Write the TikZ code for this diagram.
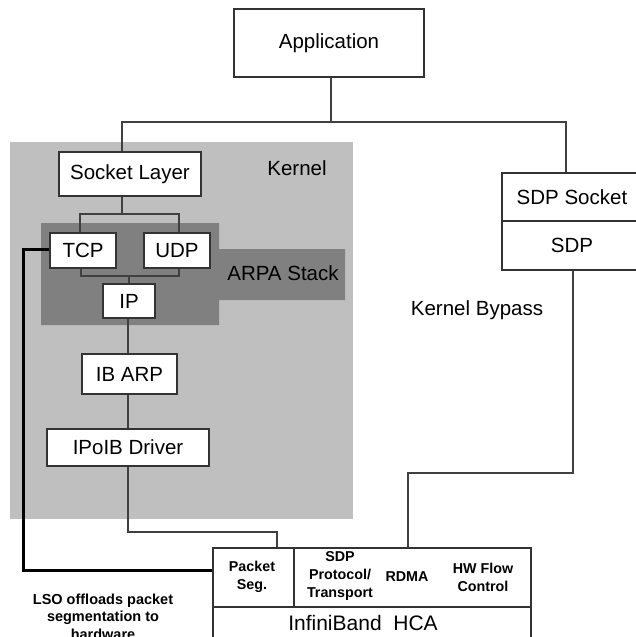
\documentclass[tikz,border=0pt]{standalone}
\usepackage{fontspec}
\setmainfont{Liberation Sans}
\begin{document}
\begin{tikzpicture}[x=1pt,y=-1pt,
  box/.style={draw=black!80,line width=1.2pt,fill=white,inner sep=0pt,font=\fontsize{20.5}{24}\selectfont},
  lbl/.style={inner sep=0pt,font=\fontsize{20.5}{24}\selectfont},
  hlbl/.style={inner sep=0pt,align=center,font=\bfseries\fontsize{14.3}{18}\selectfont},
  conn/.style={draw=black!75,line width=1.1pt},
  thick/.style={draw=black,line width=3pt}]
\useasboundingbox (0,0) rectangle (636,637);
\begin{scope}
\clip (0,0) rectangle (636,637);
% regions
\fill[black!25] (10,142) rectangle (353,519);
\fill[black!50] (41,223) -- (219,223) -- (219,249) -- (345,249) -- (345,300) -- (219,300) -- (219,325) -- (41,325) -- cycle;
\node[lbl] (kernel) at (297,168) {Kernel};
\node[lbl] (arpa) at (283,273) {ARPA Stack};
\node[lbl] (bypass) at (477,310) {Kernel Bypass};
% boxes
\node[box,minimum width=190pt,minimum height=68pt] (app) at (329,43) {Application};
\node[box,minimum width=142pt,minimum height=44pt] (sock) at (130,174) {Socket Layer};
\node[box,minimum width=66pt,minimum height=35pt] (tcp) at (83,250.5) {TCP};
\node[box,minimum width=66pt,minimum height=35pt] (udp) at (177,250.5) {UDP};
\node[box,minimum width=52pt,minimum height=34pt] (ip) at (129,301) {IP};
\node[box,minimum width=95pt,minimum height=40pt] (ibarp) at (129.5,374) {IB ARP};
\node[box,minimum width=162pt,minimum height=37pt] (ipoib) at (128,447.5) {IPoIB Driver};
\node[box,minimum width=140pt,minimum height=48pt] (sdpsock) at (572,197) {SDP Socket};
\node[box,minimum width=140pt,minimum height=49pt] (sdp) at (572,245.5) {SDP};
\node[box,minimum width=318pt,minimum height=59pt] (hcatop) at (372,577.5) {};
\node[box,minimum width=81pt,minimum height=59pt] (pseg) at (253.5,577.5) {};
\node[box,minimum width=318pt,minimum height=50pt] (hcabot) at (372,632) {};
\node[lbl,font=\fontsize{21}{24}\selectfont] (hcatxt) at (363,623) {InfiniBand\ \ HCA};
\node[hlbl] (psegtxt) at (252,577) {Packet\\Seg.};
\node[hlbl] (sdpp) at (340,575.5) {SDP\\Protocol/\\Transport};
\node[hlbl] (rdma) at (407,577) {RDMA};
\node[hlbl] (hwfc) at (483,577) {HW Flow\\Control};
\node[hlbl,align=center,font=\bfseries\fontsize{14.5}{17.5}\selectfont] (lso) at (103,616.5) {LSO offloads packet\\segmentation to\\hardware};
% connectors
\coordinate (j1) at (331,122);
\coordinate (j1l) at (122,122);
\coordinate (j1r) at (566,122);
\draw[conn] (app.south -| j1) -- (j1);
\draw[conn] (sock.north -| j1l) -- (j1l) -- (j1r) -- (sdpsock.north -| j1r);
\coordinate (j2) at (122,214);
\draw[conn] (sock.south -| j2) -- (j2);
\draw[conn] (tcp.north -| 80,0) -- (80,214) -- (179,214) -- (udp.north -| 179,0);
\coordinate (j3) at (129,276);
\draw[conn] (tcp.south -| 81,0) -- (81,276) -- (179,276) -- (udp.south -| 179,0);
\draw[conn] (j3) -- (ip.north -| j3);
\draw[conn] (ip.south -| 128,0) -- (ibarp.north -| 128,0);
\draw[conn] (ibarp.south -| 128,0) -- (ipoib.north -| 128,0);
\coordinate (j4) at (128,532);
\coordinate (j5) at (277,532);
\draw[conn] (ipoib.south -| j4) -- (j4) -- (j5) -- (hcatop.north -| j5);
\coordinate (j6) at (573,473);
\coordinate (j7) at (408,473);
\draw[conn] (sdp.south -| j6) -- (j6) -- (j7) -- (hcatop.north -| j7);
\coordinate (t1) at (23,249);
\coordinate (t2) at (23,570);
\draw[thick,line join=miter] (tcp.west |- t1) -- (t1) -- (t2) -- (pseg.west |- t2);
\end{scope}
\end{tikzpicture}
\end{document}
